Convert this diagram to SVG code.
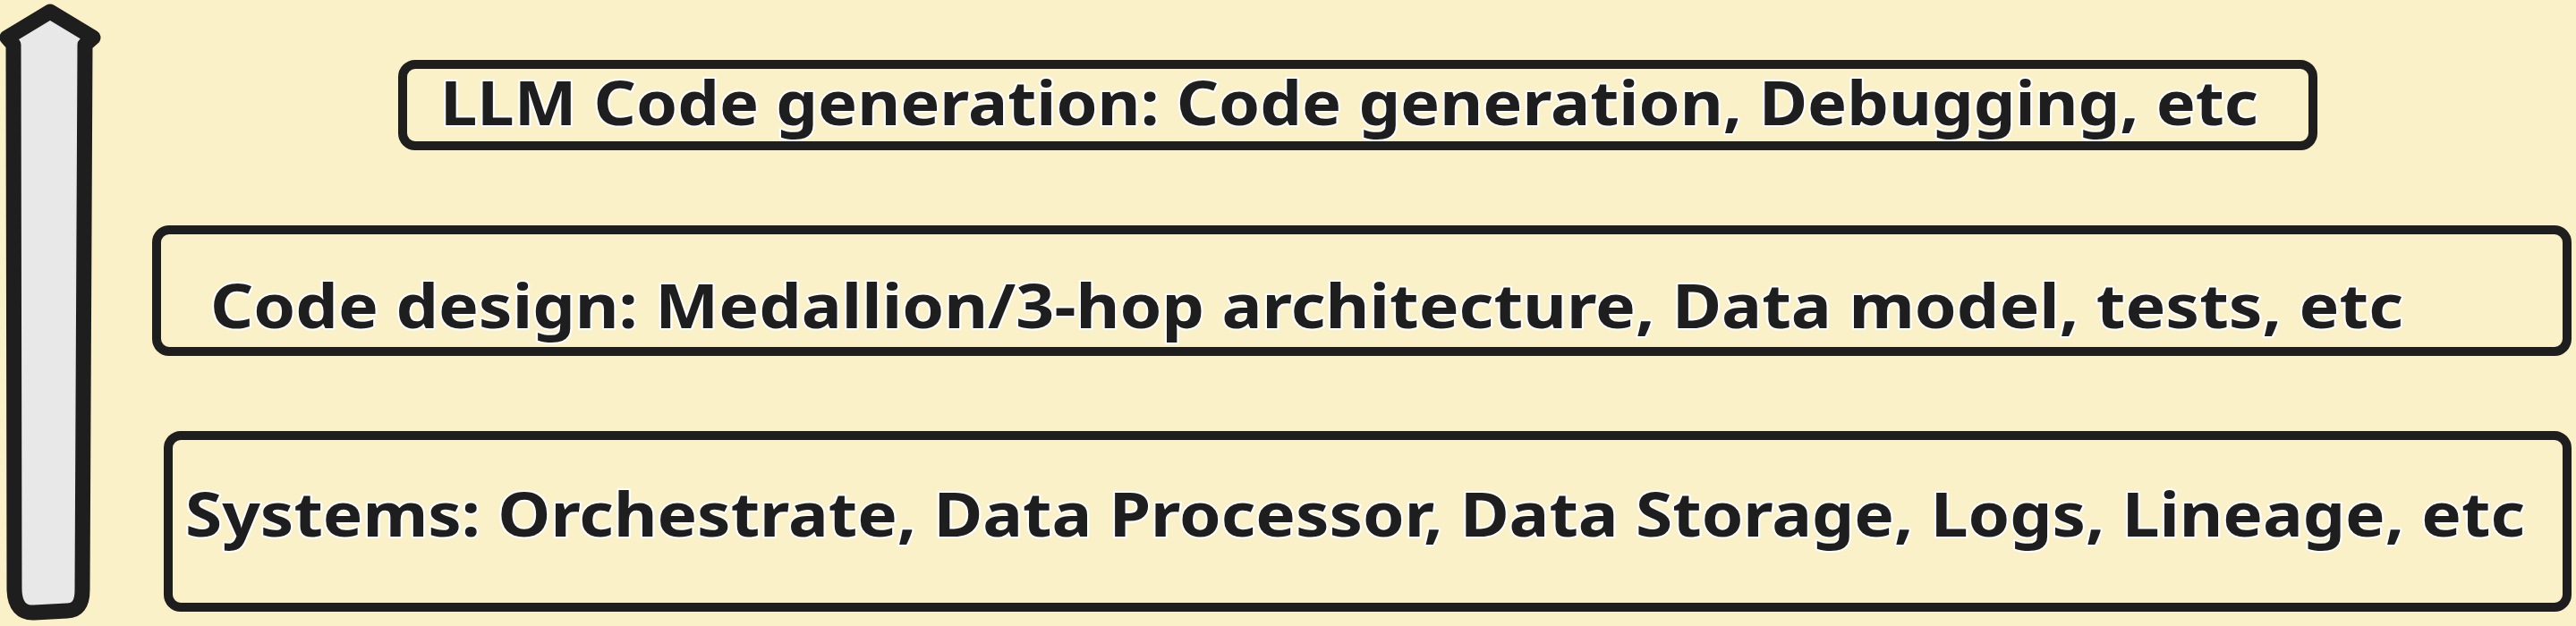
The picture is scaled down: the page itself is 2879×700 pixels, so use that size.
<svg xmlns="http://www.w3.org/2000/svg" width="2879" height="700" viewBox="0 0 2879 700">
<style>
.box{fill:none;stroke:#1e1e1e;stroke-width:10;stroke-linejoin:round}
.lbl{font-family:"Noto Sans","DejaVu Sans",sans-serif;font-weight:700;font-size:68px;fill:#1e1e1e;stroke:#ffffff;stroke-width:4;paint-order:stroke;stroke-linejoin:round}
.arrow{fill:#e8e8e8;stroke:#1e1e1e;stroke-width:17;stroke-linejoin:round;stroke-linecap:round}
</style>
<rect width="2879" height="700" fill="#faf1c9"/>
<g id="connectors">
<path class="arrow" d="M15,50 L8,42 L56,13 L104,42 L95,50 L92,660 Q92,683 75,683 L38,685 Q17,686 16,660 Z"/>
</g>
<g id="node-llm">
<rect class="box" x="450" y="72" width="2135" height="91" rx="14"/>
<text class="lbl" x="492" y="140" textLength="2032" lengthAdjust="spacingAndGlyphs">LLM Code generation: Code generation, Debugging, etc</text>
</g>
<g id="node-design">
<rect class="box" x="175" y="257" width="2694" height="136" rx="14"/>
<text class="lbl" x="235" y="367" textLength="2451" lengthAdjust="spacingAndGlyphs">Code design: Medallion/3-hop architecture, Data model, tests, etc</text>
</g>
<g id="node-systems">
<rect class="box" x="188" y="487" width="2681" height="192" rx="14"/>
<text class="lbl" x="207" y="600" textLength="2615" lengthAdjust="spacingAndGlyphs">Systems: Orchestrate, Data Processor, Data Storage, Logs, Lineage, etc</text>
</g>
</svg>
